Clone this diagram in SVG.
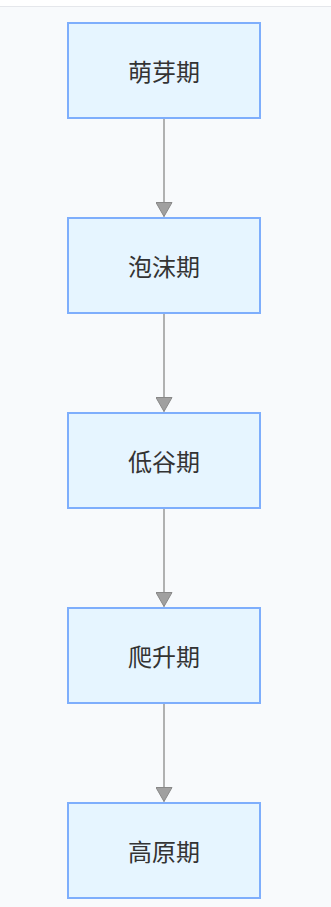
<svg xmlns="http://www.w3.org/2000/svg" width="331" height="907" viewBox="0 0 331 907">
<style>
.node rect{fill:#e6f5ff;stroke:#7eaefc;stroke-width:2}
.node text{font-family:"Noto Sans CJK SC","Noto Sans",sans-serif;font-size:24px;fill:#333;text-anchor:middle;dominant-baseline:central}
.edge{stroke:#999;stroke-width:1.5;fill:none;marker-end:url(#arr)}
</style>
<defs>
<marker id="arr" viewBox="0 0 15 17" refX="14.5" refY="8.5" markerWidth="15" markerHeight="17" markerUnits="userSpaceOnUse" orient="auto">
<path d="M0.5,0.5 L14.5,8.5 L0.5,16.5 Z" fill="#a0a0a0" stroke="#888" stroke-width="1"/>
</marker>
</defs>
<rect x="0" y="0" width="331" height="907" fill="#ffffff"/>
<rect x="0" y="6" width="331" height="901" fill="#f8fafc"/>
<line x1="0" y1="6.5" x2="331" y2="6.5" stroke="#e5e7eb" stroke-width="1"/>
<g id="connectors">
<line class="edge" x1="164" y1="118" x2="164" y2="216.5"/>
<line class="edge" x1="164" y1="313" x2="164" y2="411.5"/>
<line class="edge" x1="164" y1="508" x2="164" y2="606.5"/>
<line class="edge" x1="164" y1="703" x2="164" y2="801.5"/>
</g>
<g id="n1" class="node"><rect x="68" y="23" width="192" height="95"/><text x="164" y="70">萌芽期</text></g>
<g id="n2" class="node"><rect x="68" y="218" width="192" height="95"/><text x="164" y="265">泡沫期</text></g>
<g id="n3" class="node"><rect x="68" y="413" width="192" height="95"/><text x="164" y="460">低谷期</text></g>
<g id="n4" class="node"><rect x="68" y="608" width="192" height="95"/><text x="164" y="655">爬升期</text></g>
<g id="n5" class="node"><rect x="68" y="803" width="192" height="95"/><text x="164" y="850">高原期</text></g>
</svg>
